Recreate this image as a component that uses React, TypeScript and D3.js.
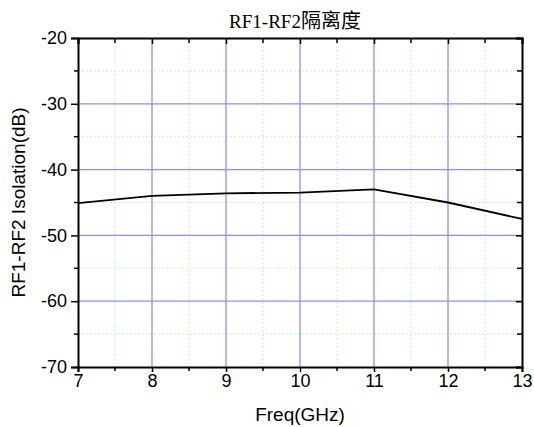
import { useRef, useEffect } from "react"
import * as d3 from "d3"

// chart data
const freqs = [7, 8, 9, 10, 11, 12, 13]
const isolation = [-45.1, -44.0, -43.6, -43.5, -43.0, -45.0, -47.5]
const xTicks = [7, 8, 9, 10, 11, 12, 13]
const yTicks = [-20, -30, -40, -50, -60, -70]

const App = () => {
  const svgRef = useRef<SVGSVGElement>(null)

  useEffect(() => {
    const svg = d3.select(svgRef.current)
    svg.selectAll("*").remove()

    const width = 534
    const height = 427
    const margin = { top: 38, right: 12, bottom: 60, left: 78 }
    const iw = width - margin.left - margin.right
    const ih = height - margin.top - margin.bottom

    const x = d3.scaleLinear().domain([7, 13]).range([0, iw])
    const y = d3.scaleLinear().domain([-70, -20]).range([ih, 0])

    const g = svg.append("g").attr("transform", `translate(${margin.left},${margin.top})`)

    // minor grid
    const xMinor = d3.range(7.5, 13, 1)
    const yMinor = d3.range(-65, -20, 10)
    g.selectAll(".xminor")
      .data(xMinor)
      .enter()
      .append("line")
      .attr("x1", (d) => x(d))
      .attr("x2", (d) => x(d))
      .attr("y1", 0)
      .attr("y2", ih)
      .attr("stroke", "#c6f2c6")
      .attr("stroke-dasharray", "2,2")
    g.selectAll(".yminor")
      .data(yMinor)
      .enter()
      .append("line")
      .attr("x1", 0)
      .attr("x2", iw)
      .attr("y1", (d) => y(d))
      .attr("y2", (d) => y(d))
      .attr("stroke", "#c6f2c6")
      .attr("stroke-dasharray", "2,2")

    // major grid
    g.selectAll(".xmajor")
      .data(xTicks.slice(1, -1))
      .enter()
      .append("line")
      .attr("x1", (d) => x(d))
      .attr("x2", (d) => x(d))
      .attr("y1", 0)
      .attr("y2", ih)
      .attr("stroke", "#8c8cff")
      .attr("stroke-width", 1.3)
    g.selectAll(".ymajor")
      .data(yTicks.slice(1, -1))
      .enter()
      .append("line")
      .attr("x1", 0)
      .attr("x2", iw)
      .attr("y1", (d) => y(d))
      .attr("y2", (d) => y(d))
      .attr("stroke", "#8c8cff")
      .attr("stroke-width", 1.3)

    // data line
    const line = d3
      .line<number>()
      .x((_, i) => x(freqs[i]))
      .y((d) => y(d))
    g.append("path")
      .datum(isolation)
      .attr("d", line)
      .attr("fill", "none")
      .attr("stroke", "#000")
      .attr("stroke-width", 1.8)

    const font = "'Liberation Sans', Arial, sans-serif"
    const fmt = (d: d3.NumberValue) => String(d)

    // bottom axis
    const bottom = g
      .append("g")
      .attr("transform", `translate(0,${ih})`)
      .call(d3.axisBottom(x).tickValues(xTicks).tickSize(5).tickPadding(2).tickFormat(fmt))
    bottom.append("g").selectAll("line").data(xMinor).enter().append("line")
      .attr("x1", (d) => x(d)).attr("x2", (d) => x(d)).attr("y1", 0).attr("y2", 4)
      .attr("stroke", "#000").attr("stroke-width", 1.5)

    // left axis
    const left = g
      .append("g")
      .call(d3.axisLeft(y).tickValues(yTicks).tickSize(7).tickPadding(4).tickFormat(fmt))
    left.append("g").selectAll("line").data(yMinor).enter().append("line")
      .attr("x1", 0).attr("x2", -4).attr("y1", (d) => y(d)).attr("y2", (d) => y(d))
      .attr("stroke", "#000").attr("stroke-width", 1.5)

    // top axis (inward ticks, no labels)
    const top = g.append("g").call(d3.axisTop(x).tickValues(xTicks).tickSize(-6).tickFormat(() => ""))
    top.append("g").selectAll("line").data(xMinor).enter().append("line")
      .attr("x1", (d) => x(d)).attr("x2", (d) => x(d)).attr("y1", 0).attr("y2", 5)
      .attr("stroke", "#000").attr("stroke-width", 1.5)

    // right axis (inward ticks, no labels)
    const right = g
      .append("g")
      .attr("transform", `translate(${iw},0)`)
      .call(d3.axisRight(y).tickValues(yTicks).tickSize(-6).tickFormat(() => ""))
    right.append("g").selectAll("line").data(yMinor).enter().append("line")
      .attr("x1", 0).attr("x2", -5).attr("y1", (d) => y(d)).attr("y2", (d) => y(d))
      .attr("stroke", "#000").attr("stroke-width", 1.5)

    for (const ax of [bottom, left, top, right]) {
      ax.select(".domain").attr("stroke-width", 2).attr("stroke", "#000")
      ax.selectAll(".tick line").attr("stroke-width", 1.5)
      ax.selectAll("text").attr("font-family", font).attr("font-size", 18).attr("fill", "#000")
    }

    // title
    const title = svg.append("text")
      .attr("x", 295)
      .attr("y", 28)
      .attr("text-anchor", "middle")
    title.append("tspan")
      .attr("font-family", "'Liberation Serif', 'Times New Roman', serif")
      .attr("font-size", 19)
      .text("RF1-RF2")
    title.append("tspan")
      .attr("font-family", "'Noto Sans CJK SC', sans-serif")
      .attr("font-size", 20)
      .text("隔离度")

    // axis titles
    svg.append("text")
      .attr("x", margin.left + iw / 2)
      .attr("y", 421)
      .attr("text-anchor", "middle")
      .attr("font-family", font)
      .attr("font-size", 19)
      .text("Freq(GHz)")

    svg.append("text")
      .attr("transform", `translate(25,${margin.top + ih / 2}) rotate(-90)`)
      .attr("text-anchor", "middle")
      .attr("font-family", font)
      .attr("font-size", 19)
      .text("RF1-RF2 Isolation(dB)")
  }, [])

  return (
    <svg
      ref={svgRef}
      width={534}
      height={427}
      style={{ position: "absolute", left: 0, top: 0, background: "#fff" }}
    ></svg>
  )
}

export default App
